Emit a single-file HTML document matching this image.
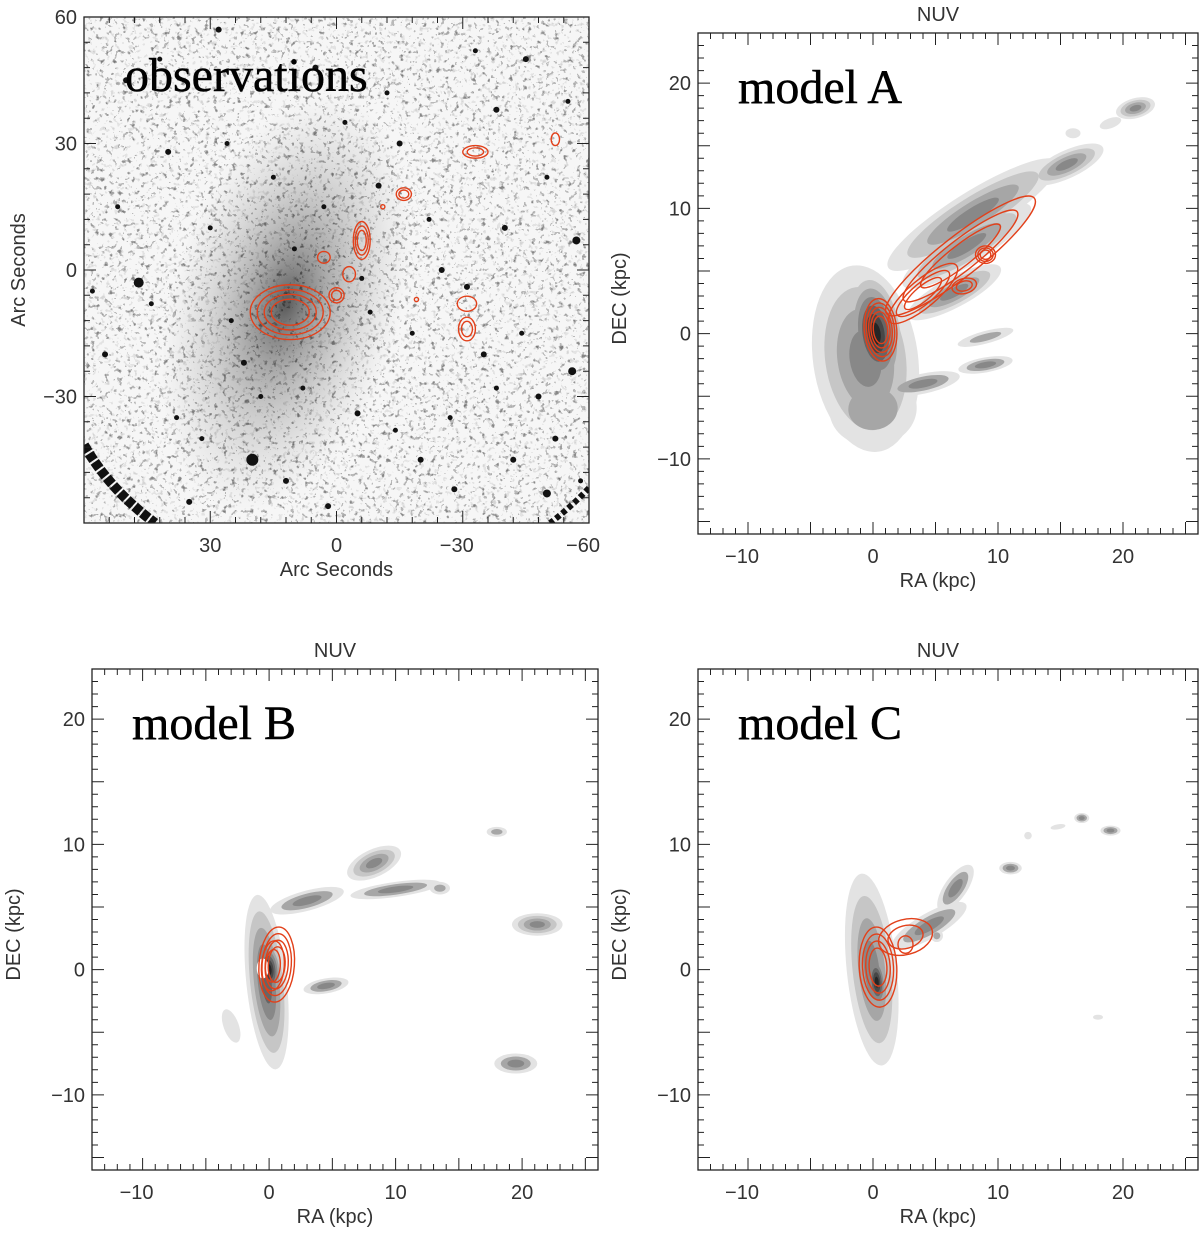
<!DOCTYPE html>
<html><head><meta charset="utf-8"><style>
html,body{margin:0;padding:0;background:#fff;width:1200px;height:1236px;overflow:hidden}
svg text{font-family:"Liberation Sans",sans-serif;fill:#333}
.big{font-family:"Liberation Serif",serif;fill:#000}
</style></head><body>
<svg id="fig" width="1200" height="1236" viewBox="0 0 1200 1236" xmlns="http://www.w3.org/2000/svg">
<defs>
<filter id="speck" x="0" y="0" width="100%" height="100%">
<feTurbulence type="fractalNoise" baseFrequency="0.22" numOctaves="2" seed="7" result="n"/>
<feColorMatrix type="matrix" values="0 0 0 0 0  0 0 0 0 0  0 0 0 0 0  1.8 0 0 0 -0.55" in="n"/>
<feComponentTransfer><feFuncA type="discrete" tableValues="0 0 0 0.25 0.45"/></feComponentTransfer>
</filter>
<radialGradient id="gal" cx="0.5" cy="0.5" r="0.5">
<stop offset="0" stop-color="#333" stop-opacity="0.8"/>
<stop offset="0.3" stop-color="#666" stop-opacity="0.55"/>
<stop offset="0.65" stop-color="#999" stop-opacity="0.3"/>
<stop offset="1" stop-color="#bbb" stop-opacity="0"/>
</radialGradient>
<clipPath id="c1"><rect x="84" y="17" width="505" height="506"/></clipPath>
<clipPath id="c2"><rect x="698" y="33" width="500" height="501"/></clipPath>
<clipPath id="c3"><rect x="92" y="669" width="506" height="501"/></clipPath>
<clipPath id="c4"><rect x="698" y="669" width="500" height="501"/></clipPath>
</defs>
</svg>
<script>
// ---- data (arcsec for observations, kpc for models) ----
const obsStarX=[47,20,-50,-57,-56,-31,-38,55,40,28,12,5,-10,-20,-45,-52,35,22,-5,-25,-40,-15,8,-35,50,30,-8,-48,44,15,-28,-12,-42,2,25,52,38,-2,-18,-33,-44,-55,10,18,-6,-22,-38,-50,32,42,3,-14,-27,58,-58,26];
const obsStarY=[-3,-45,-53,7,-24,-4,38,-20,28,57,-50,48,20,-45,50,-40,-55,-22,-34,0,10,30,-28,-20,45,10,-10,-30,-8,22,-52,42,-45,-56,-12,15,-35,35,-15,52,-15,40,5,-30,-2,12,-28,22,-40,50,15,-38,-35,-5,-50,30];
const obsStarR=[5,6,4,4,4,3,3,3,3,3,3,3,3,3,3,3,3,3,3,3,3,3,2.5,3,3,2.5,2.5,3,2.5,2.5,3,2.5,3,3,2.5,2.5,2.5,2.5,2.5,2.5,2.5,2.5,2.5,2.5,2.5,2.5,2.5,2.5,2.5,2.5,2.5,2.5,2.5,2.5,2.5,2.5];
const obsContX=[11,-6,-16,-33,-52,-31,-31,0,-3,3,-11,-19];
const obsContY=[-10,7,18,28,31,-8,-14,-6,-1,3,15,-7];
const obsContRX=[9.5,2,1.8,3,1,2.3,2,1.8,1.5,1.5,0.5,0.5];
const obsContRY=[6.5,4.5,1.5,1.5,1.5,1.8,2.8,1.8,1.8,1.4,0.5,0.5];
const obsContN=[4,3,2,2,1,1,2,2,1,1,1,1];

const aBlobX=[-0.6,0.2,8,15.5,21,7.5,6.5,4,9,9,16,19,0];
const aBlobY=[-2,0,9.5,13.5,18,7,3.3,-4,-2.5,-0.3,16,16.8,-6];
const aBlobRX=[4.2,2.3,8,3.2,1.6,6,4.2,3,2.2,2.3,0.6,0.9,3.5];
const aBlobRY=[7.5,5,1.8,1.1,0.8,1.5,1.2,0.8,0.6,0.5,0.4,0.4,3];
const aBlobAng=[8,8,32,25,15,32,28,12,10,15,0,20,5];
const aBlobL=[4,7,4,4,4,4,4,3,3,2,1,1,2];
const aContX=[0.6,7,9,7.3,4];
const aContY=[0.3,6.2,6.3,3.8,3.2];
const aContRX=[1.3,7.5,0.8,1,3.5];
const aContRY=[2.5,1.6,0.7,0.6,1.1];
const aContAng=[5,38,0,15,40];
const aContN=[5,3,3,2,3];

const bBlobX=[-0.2,3,8.3,10,13.5,21.2,19.5,18,4.5,-3,0];
const bBlobY=[-1,5.5,8.5,6.4,6.5,3.6,-7.5,11,-1.3,-4.5,0];
const bBlobRX=[1.6,3,2.3,3.6,0.8,2,1.7,0.8,1.8,0.6,1.1];
const bBlobRY=[7,0.8,1.1,0.6,0.5,0.9,0.8,0.4,0.6,1.4,2.5];
const bBlobAng=[6,15,25,8,0,0,0,0,10,20,6];
const bBlobL=[5,3,4,3,2,4,3,2,3,1,7];
const bContX=[0.6,0.3];
const bContY=[0.4,0.3];
const bContRX=[1.4,0.9];
const bContRY=[3,2];
const bContAng=[-4,-4];
const bContN=[4,2];

const cBlobX=[-0.1,4.5,6.6,11,16.7,19,12.4,18,5.1,14.8,0.3];
const cBlobY=[0,3.5,6.5,8.1,12.1,11.1,10.7,-3.8,2.7,11.4,-1];
const cBlobRX=[2,3.4,0.9,0.9,0.6,0.8,0.3,0.4,0.5,0.6,0.9];
const cBlobRY=[7.7,1,2.2,0.5,0.4,0.4,0.3,0.2,0.5,0.2,2.5];
const cBlobAng=[6,30,-35,0,0,0,0,0,0,10,5];
const cBlobL=[4,3,3,3,3,3,1,1,2,1,7];
const cContX=[0.4,2.6,2.6];
const cContY=[0.2,2.6,2];
const cContRX=[1.5,2.2,0.6];
const cContRY=[3.2,1.4,0.7];
const cContAng=[3,15,0];
const cContN=[4,2,1];

const xTicksObs=[30,0,-30,-60];
const yTicksObs=[60,30,0,-30];
const xTicksKpc=[-10,0,10,20];
const yTicksKpc=[20,10,0,-10];

// ---- helpers ----
const NS="http://www.w3.org/2000/svg";
const svg=document.getElementById('fig');
function el(tag,parent){const e=document.createElementNS(NS,tag);parent.appendChild(e);return e;}
function P(x0,x1,y0,y1,xmin,xmax,ymin,ymax){return{x0,x1,y0,y1,sx:v=>x0+(v-xmin)/(xmax-xmin)*(x1-x0),sy:v=>y1-(v-ymin)/(ymax-ymin)*(y1-y0),kx:(x1-x0)/Math.abs(xmax-xmin),ky:(y1-y0)/(ymax-ymin),xmin,xmax,ymin,ymax};}
const fmt=v=>v<0?'\u2212'+(-v):''+v;
const greys=['#e3e3e3','#c6c6c6','#a6a6a6','#888','#666','#474747','#262626','#0d0d0d'];

function axes(p,g,name,xt,yt,xminor,yminor,xlab,ylab,title){
  const fr=el('rect',g);
  
  
  fr.setAttribute('x',p.x0);fr.setAttribute('y',p.y0);fr.setAttribute('width',p.x1-p.x0);fr.setAttribute('height',p.y1-p.y0);
  fr.setAttribute('fill','none');fr.setAttribute('stroke','#222');fr.setAttribute('stroke-width','1.3');
  const lo=Math.min(p.xmin,p.xmax),hi=Math.max(p.xmin,p.xmax);
  let d='';
  for(let v=Math.ceil(lo/xminor)*xminor;v<=hi+1e-9;v+=xminor){const x=p.sx(v);const L=(Math.abs(v%(xminor*5))<1e-6)?12:6;d+=`M${x},${p.y1}v${-L}M${x},${p.y0}v${L}`;}
  for(let v=Math.ceil(p.ymin/yminor)*yminor;v<=p.ymax+1e-9;v+=yminor){const y=p.sy(v);const L=(Math.abs(v%(yminor*5))<1e-6)?12:6;d+=`M${p.x0},${y}h${L}M${p.x1},${y}h${-L}`;}
  const tk=el('path',g);
  
  
  tk.setAttribute('d',d);tk.setAttribute('stroke','#222');tk.setAttribute('stroke-width','1');
  xt.forEach(v=>{const t=el('text',g);
    
    
    t.setAttribute('x',p.sx(v)-(v<0?6:0));t.setAttribute('y',p.y1+29);t.setAttribute('text-anchor','middle');t.setAttribute('font-size','20');t.textContent=fmt(v);});
  yt.forEach(v=>{const t=el('text',g);
    
    
    t.setAttribute('x',p.x0-7);t.setAttribute('y',p.sy(v)+7);t.setAttribute('text-anchor','end');t.setAttribute('font-size','20');t.textContent=fmt(v);});
  const xl=el('text',g);
  
  
  xl.setAttribute('x',(p.x0+p.x1)/2-(name==='obs'?0:10));xl.setAttribute('y',p.y1+53);xl.setAttribute('text-anchor','middle');xl.setAttribute('font-size','20');xl.textContent=xlab;
  const yl=el('text',g);
  
  
  const cy=(p.y0+p.y1)/2+(name==='obs'?0:15),cx=name==='obs'?25:p.x0-72;
  yl.setAttribute('transform',`translate(${cx},${cy}) rotate(-90)`);yl.setAttribute('text-anchor','middle');yl.setAttribute('font-size','20');yl.textContent=ylab;
  if(title){const tt=el('text',g);
    
    
    tt.setAttribute('x',(p.x0+p.x1)/2-10);tt.setAttribute('y',p.y0-12);tt.setAttribute('text-anchor','middle');tt.setAttribute('font-size','20');tt.textContent=title;}
}
function blobs(p,g,name,X,Y,RX,RY,A,L){
  for(let lev=0;lev<8;lev++){
    X.forEach((x,i)=>{ if(lev>=L[i])return;
      const s=1-lev/(L[i]+0.3);
      const e=el('ellipse',g);
      
      
      e.setAttribute('cx',p.sx(x));e.setAttribute('cy',p.sy(Y[i]));
      e.setAttribute('rx',RX[i]*p.kx*s);e.setAttribute('ry',RY[i]*p.ky*s);
      e.setAttribute('transform',`rotate(${-(A?A[i]:0)} ${p.sx(x)} ${p.sy(Y[i])})`);
      e.setAttribute('fill',greys[lev+(L[i]<4&&lev>0?1:0)]||'#000');
    });
  }
}
function contours(p,g,name,X,Y,RX,RY,A,N){
  X.forEach((x,i)=>{for(let k=0;k<N[i];k++){const s=1-k*0.7/N[i];
    const e=el('ellipse',g);
    
    
    e.setAttribute('cx',p.sx(x));e.setAttribute('cy',p.sy(Y[i]));
    e.setAttribute('rx',RX[i]*p.kx*s);e.setAttribute('ry',RY[i]*p.ky*s);
    e.setAttribute('transform',`rotate(${-(A?A[i]:0)} ${p.sx(x)} ${p.sy(Y[i])})`);
    e.setAttribute('fill','none');e.setAttribute('stroke','#e2401a');e.setAttribute('stroke-width','1.4');}});
}
function label(g,name,x,y,txt){const t=el('text',g);
  
  
  t.setAttribute('class','big');t.setAttribute('x',x);t.setAttribute('y',y);t.setAttribute('font-size','48');t.setAttribute('stroke','#000');t.setAttribute('stroke-width','0.5');t.textContent=txt;}

// ---- panel 1: observations ----
const p1=P(84,589,17,523,60,-60,-60,60);
const g1=el('g',svg);


const i1=el('g',g1);i1.setAttribute('clip-path','url(#c1)');


const bg=el('rect',i1);bg.setAttribute('x',84);bg.setAttribute('y',17);bg.setAttribute('width',505);bg.setAttribute('height',506);bg.setAttribute('fill','#f6f6f6');
const gx=p1.sx(12),gy=p1.sy(-8);
const gal=el('ellipse',i1);


gal.setAttribute('cx',gx);gal.setAttribute('cy',gy);gal.setAttribute('rx',115);gal.setAttribute('ry',215);gal.setAttribute('fill','url(#gal)');gal.setAttribute('transform',`rotate(16 ${gx} ${gy})`);
const sp=el('rect',i1);sp.setAttribute('x',84);sp.setAttribute('y',17);sp.setAttribute('width',505);sp.setAttribute('height',506);sp.setAttribute('fill','#fff');sp.setAttribute('filter','url(#speck)');
const sp2=el('rect',i1);sp2.setAttribute('x',84);sp2.setAttribute('y',17);sp2.setAttribute('width',505);sp2.setAttribute('height',506);sp2.setAttribute('fill','#777');sp2.setAttribute('opacity','0.3');sp2.setAttribute('filter','url(#speck)');sp2.setAttribute('transform','translate(589,523) rotate(180) translate(-84,-17)');
obsStarX.forEach((x,i)=>{const c=el('circle',i1);
  
  
  c.setAttribute('cx',p1.sx(x));c.setAttribute('cy',p1.sy(obsStarY[i]));c.setAttribute('r',obsStarR[i]);c.setAttribute('fill','#111');});
const edge=el('path',i1);


edge.setAttribute('d','M84,445 Q110,490 155,523');edge.setAttribute('stroke','#111');edge.setAttribute('stroke-width','10');edge.setAttribute('fill','none');edge.setAttribute('stroke-dasharray','8 2');
const edge2=el('path',i1);


edge2.setAttribute('d','M589,488 Q570,508 550,523');edge2.setAttribute('stroke','#111');edge2.setAttribute('stroke-width','6');edge2.setAttribute('fill','none');edge2.setAttribute('stroke-dasharray','5 3');
contours(p1,i1,'obs',obsContX,obsContY,obsContRX,obsContRY,null,obsContN);
label(g1,'observations',125,91,'observations');
axes(p1,g1,'obs',xTicksObs,yTicksObs,6,6,'Arc Seconds','Arc Seconds',null);

// ---- model panels ----
function model(name,box,clip,X,Y,RX,RY,A,L,CX,CY,CRX,CRY,CA,CN,lab,hole){
  const p=P(box[0],box[1],box[2],box[3],-14,26,-16,24);
  const g=el('g',svg);
  
  
  const ig=el('g',g);ig.setAttribute('clip-path',clip);
  
  
  blobs(p,ig,name,X,Y,RX,RY,A,L);
  if(hole){const h=el('ellipse',ig);
    
    
    h.setAttribute('cx',p.sx(-0.5));h.setAttribute('cy',p.sy(0.1));h.setAttribute('rx',6);h.setAttribute('ry',10);h.setAttribute('fill','#fff');}
  contours(p,ig,name,CX,CY,CRX,CRY,CA,CN);
  label(g,name,p.x0+40,p.y0+70,lab);
  axes(p,g,name,xTicksKpc,yTicksKpc,1,1,'RA (kpc)','DEC (kpc)','NUV');
}
model('model-a',[698,1198,33,534],'url(#c2)',aBlobX,aBlobY,aBlobRX,aBlobRY,aBlobAng,aBlobL,aContX,aContY,aContRX,aContRY,aContAng,aContN,'model A',false);
model('model-b',[92,598,669,1170],'url(#c3)',bBlobX,bBlobY,bBlobRX,bBlobRY,bBlobAng,bBlobL,bContX,bContY,bContRX,bContRY,bContAng,bContN,'model B',true);
model('model-c',[698,1198,669,1170],'url(#c4)',cBlobX,cBlobY,cBlobRX,cBlobRY,cBlobAng,cBlobL,cContX,cContY,cContRX,cContRY,cContAng,cContN,'model C',false);
</script>
</body></html>
